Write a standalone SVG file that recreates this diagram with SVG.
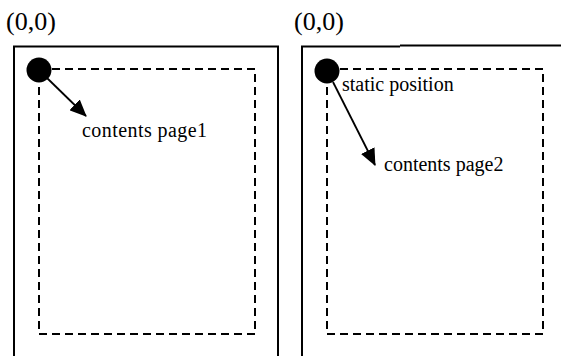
<svg xmlns="http://www.w3.org/2000/svg" width="561" height="356" viewBox="0 0 561 356">
<style>
.frame{fill:none;stroke:#000;stroke-width:2}
.dash{fill:none;stroke:#000;stroke-width:2;stroke-dasharray:8 5}
.dot{fill:#000}
.lbl{font-family:"Liberation Serif","Times New Roman",serif;font-size:20px;fill:#000}
.org{font-family:"Liberation Serif","Times New Roman",serif;font-size:26px;fill:#000}
.arr{stroke:#000;stroke-width:1.8;fill:none;marker-end:url(#ah)}
</style>
<defs>
<marker id="ah" markerUnits="userSpaceOnUse" markerWidth="17" markerHeight="15" refX="16" refY="7.5" orient="auto">
<path d="M0,0 L17,7.5 L0,15 z" fill="#000"/>
</marker>
</defs>
<rect width="561" height="356" fill="#fff"/>
<g id="page1">
<path class="frame" d="M14,360 V46.5 H278 V360"/>
<rect class="dash" x="39" y="69" width="216" height="265"/>
<text class="org" x="6" y="30">(0,0)</text>
</g>
<g id="page2">
<path class="frame" d="M302,360 V46.5 H400"/>
<path class="frame" d="M400,45.5 H561" stroke-width="2.4"/>
<rect class="dash" x="327" y="69" width="216" height="265"/>
<text class="org" x="294" y="30">(0,0)</text>
</g>
<g id="origin1"><circle class="dot" cx="39" cy="70" r="12.5"/></g>
<g id="origin2"><circle class="dot" cx="327" cy="71" r="12.5"/></g>
<g id="label1"><text class="lbl" x="82" y="137" textLength="125" lengthAdjust="spacing">contents page1</text></g>
<g id="label2"><text class="lbl" x="342" y="91">static position</text></g>
<g id="label3"><text class="lbl" x="384" y="171">contents page2</text></g>
<g id="connectors">
<line class="arr" x1="47" y1="78" x2="86" y2="116"/>
<line class="arr" x1="333" y1="82" x2="375" y2="165"/>
</g>
</svg>
